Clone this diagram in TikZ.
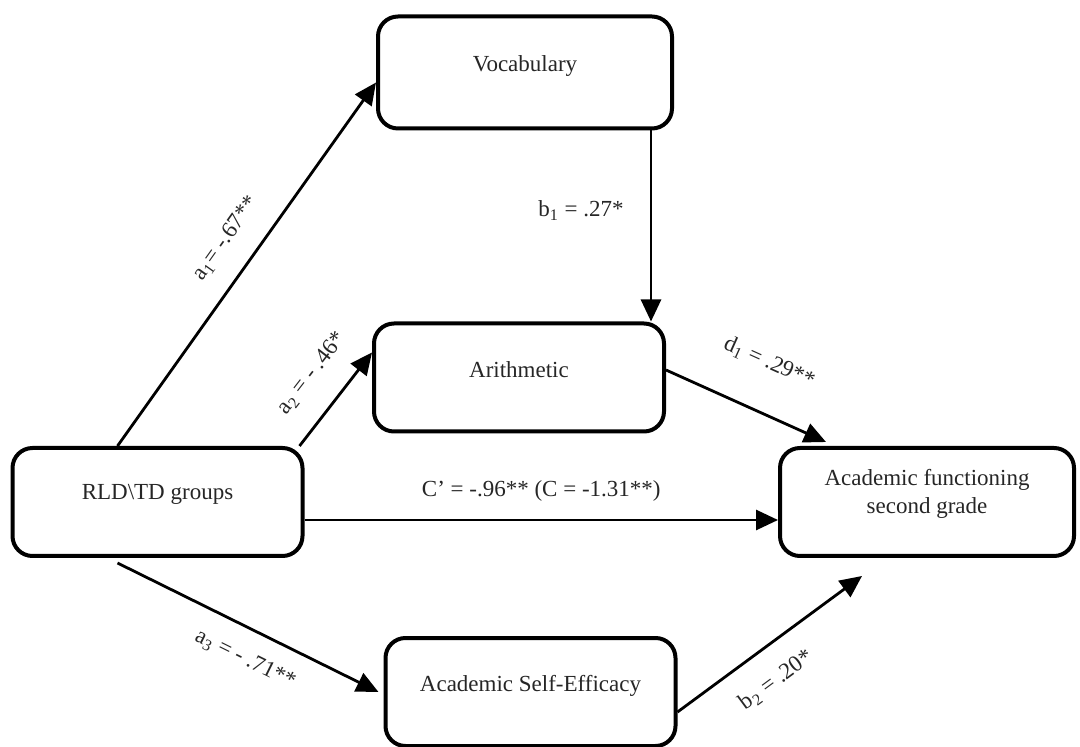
\documentclass[tikz,border=0pt]{standalone}
\usepackage{fontspec}
\setmainfont{Liberation Serif}
\usepackage{xcolor}
\usetikzlibrary{arrows.meta}

\begin{document}
\begin{tikzpicture}[x=0.5pt, y=-0.5pt]
\tikzset{
  base/.style={draw, line width=2pt, rounded corners=10pt},
  box/.style={base, minimum width=145pt, minimum height=54pt},
  txt/.style={font=\fontsize{11.5}{14}\selectfont, text=black!85, align=center},
  lab/.style={font=\fontsize{11.5}{14}\selectfont, text=black!85, inner sep=1pt},
  arr/.style={-{Triangle[length=11pt, width=10pt]}, line width=1.4pt},
}

\useasboundingbox (0,0) rectangle (1080,747);

\node [box, minimum width=147pt, minimum height=56pt] (voc) at (525, 72.5) {};
\node [txt] (voc-t) at ([yshift=3pt]voc.center) {Vocabulary};
\node [box] (arith) at (519, 377.5) {};
\node [txt] (arith-t) at ([yshift=4pt]arith.center) {Arithmetic};
\node [box] (rld) at (157.5, 502) {};
\node [txt] (rld-t) at ([yshift=4pt]rld.center) {RLD\textbackslash TD groups};
\node [box, minimum width=147pt] (acad) at (927, 502) {};
\node [txt] (acad-t) at ([yshift=4pt]acad.center) {Academic functioning\\second grade};
\node [box] (self) at (530.5, 692) {};
\node [txt] (self-t) at ([yshift=3pt]self.center) {Academic Self-Efficacy};

\draw [arr] ([xshift=-20pt]rld.north) -- ([yshift=-5pt]voc.west)
  node [lab, pos=0.52, sloped, above=9.5pt] {a\textsubscript{1}= -.67**};
\draw [arr] ([xshift=-2.5pt]rld.north east) -- ([yshift=12.5pt]arith.west)
  node [lab, pos=0.55, sloped, above=11pt] {a\textsubscript{2} = - .46*};
\draw [arr] ([xshift=63pt]voc.south) -- ([xshift=63pt]voc.south |- arith.north)
  node [lab, pos=0.42, left=12pt] {b\textsubscript{1} = .27*};
\draw [arr] ([yshift=3.75pt]arith.east) -- ([xshift=-50.5pt, yshift=2pt]acad.north)
  node [lab, pos=0.52, sloped, above=18pt] {d\textsubscript{1} = .29**};
\draw [arr] ([yshift=-9pt]rld.east) -- ([yshift=-9pt]acad.west)
  node [lab, midway, above=7.5pt] {C’ = -.96** (C = -1.31**)};
\draw [arr] ([xshift=-20pt, yshift=-2.5pt]rld.south) -- ([xshift=-2.5pt]self.west)
  node [lab, pos=0.54, sloped, below=8.5pt] {a\textsubscript{3} = - .71**};
\draw [arr] ([yshift=-10pt]self.east) -- ([xshift=-32.5pt, yshift=-9pt]acad.south)
  node [lab, pos=0.43, sloped, below=10pt] {b\textsubscript{2} = .20*};
\end{tikzpicture}
\end{document}
